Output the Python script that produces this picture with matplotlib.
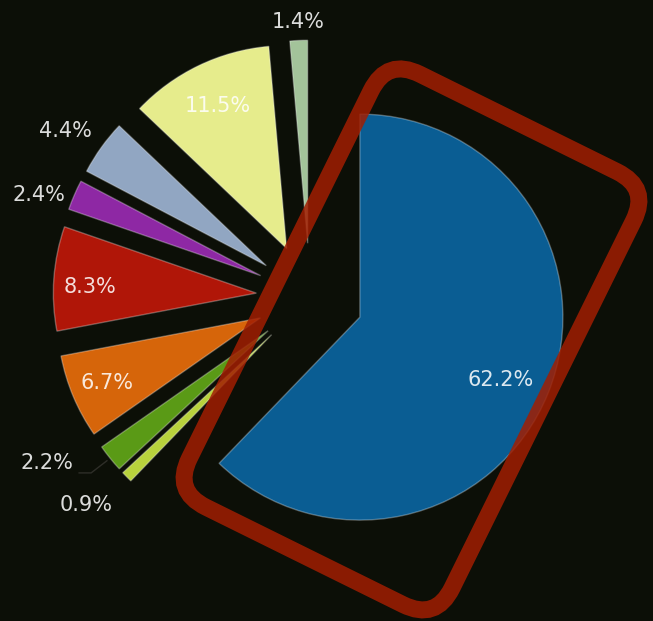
import numpy as np
import matplotlib
matplotlib.use("Agg")
import matplotlib.pyplot as plt
from matplotlib.patches import FancyBboxPatch
from matplotlib.transforms import Affine2D

# share of each segment, clockwise from 12 o'clock
shares = [62.2, 0.9, 2.2, 6.7, 8.3, 2.4, 4.4, 11.5, 1.4]
colors = ["#0a5d93", "#b8d23c", "#5a9a16", "#d6650a", "#b01608",
          "#8e28a4", "#91a6c2", "#e6ec8c", "#a3c39a"]

# label placement: distance from wedge tip (in radii) and angular nudge (deg)
label_dist = [0.76, 1.24, 1.27, 0.82, 0.82, 1.16, 1.19, 0.78, 1.09]
label_nudge = [-2.0, -2.0, -8.0, 0.0, 2.0, 3.4, 1.7, 0.0, 0.0]

bg = "#0c0f07"
W, H = 653, 621
R = 203.0  # pie radius in pixels
cx_px, cy_px = 310, 297  # pie centre in pixels (from top-left)

fig = plt.figure(figsize=(W / 100, H / 100), dpi=100, facecolor=bg)
ax = fig.add_axes([0, 0, 1, 1])
ax.set_facecolor(bg)

wedges, _ = ax.pie(shares, colors=colors, startangle=90, counterclock=False,
                   explode=[0.265] * len(shares), radius=1.0,
                   wedgeprops=dict(edgecolor=(1, 1, 1, 0.3), linewidth=1.0))

for w, pct, d, nudge in zip(wedges, shares, label_dist, label_nudge):
    th = np.deg2rad((w.theta1 + w.theta2) / 2 + nudge)
    x0, y0 = w.center
    ax.text(x0 + d * np.cos(th), y0 + d * np.sin(th), f"{pct:.1f}%",
            ha="center", va="center", fontsize=15, color="white",
            alpha=0.86, zorder=5)

# small leader line for the 2.2% label
w = wedges[2]
th = np.deg2rad((w.theta1 + w.theta2) / 2)
px, py = w.center[0] + 1.02 * np.cos(th), w.center[1] + 1.02 * np.sin(th)
ax.plot([px, px - 0.078, px - 0.137], [py, py - 0.06, py - 0.06],
        color="#2e2e28", lw=1.0, zorder=4)

# highlight frame round the big segment
rcx, rcy = 0.5, -0.209
rw, rh = 1.443, 2.379
frame = FancyBboxPatch((rcx - rw / 2, rcy - rh / 2), rw, rh,
                       boxstyle="round,pad=0,rounding_size=0.18",
                       facecolor="none", edgecolor="#a11e02", linewidth=12.2,
                       alpha=0.85, zorder=4)
frame.set_transform(Affine2D().rotate_deg_around(rcx, rcy, -26.3) + ax.transData)
ax.add_patch(frame)

ax.set_xlim(-cx_px / R, (W - cx_px) / R)
ax.set_ylim(-(H - cy_px) / R, cy_px / R)
ax.set_aspect("auto")
ax.axis("off")

fig.savefig("out.png", dpi=100, facecolor=bg)
